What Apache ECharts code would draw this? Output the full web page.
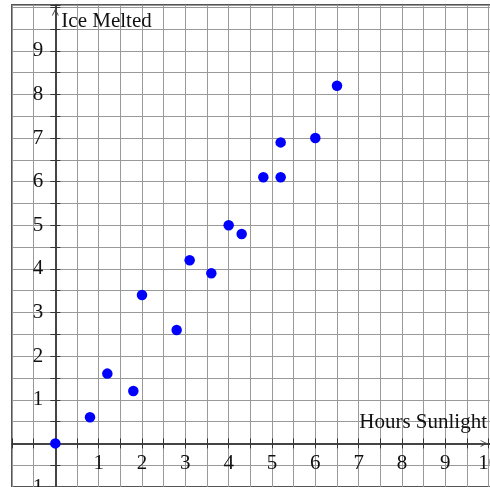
<!DOCTYPE html>
<html>
<head>
<meta charset="utf-8">
<script src="https://cdn.jsdelivr.net/npm/echarts@6/dist/echarts.min.js"></script>
<style>html,body{margin:0;padding:0;background:#fff}#chart{width:490px;height:487px}</style>
</head>
<body>
<div id="chart"></div>
<script>
// Data
const hoursSunlight = [0, 0.8, 1.2, 1.8, 2, 2.8, 3.1, 3.6, 4, 4.3, 4.8, 5.2, 5.2, 6, 6.5];
const iceMelted     = [0, 0.6, 1.6, 1.2, 3.4, 2.6, 4.2, 3.9, 5, 4.8, 6.1, 6.1, 6.9, 7, 8.2];
const xTickLabels = [1, 2, 3, 4, 5, 6, 7, 8, 9, 10];
const yTickLabels = [-1, 1, 2, 3, 4, 5, 6, 7, 8, 9];
const xName = 'Hours Sunlight';
const yName = 'Ice Melted';

const points = hoursSunlight.map((x, i) => [x, iceMelted[i]]);
const FONT = 'Liberation Serif';
const FS = 21;
const chevron = 'path://M0,10 L5,0 L10,10 L8.6,10 L5,2.8 L1.4,10 Z';

const W = 490, H = 487;
const G = { left: 12, top: 5, right: -3, bottom: 0 };
const xRange = { min: -1, max: 10.1, interval: 0.5 };
const yRange = { min: -1, max: 10.05, interval: 0.5 };

function mainAxis(range, labels, isX) {
  return Object.assign({
    type: 'value',
    gridIndex: 0,
    position: isX ? 'bottom' : 'left',
    offset: 0,
    name: isX ? xName : yName,
    nameLocation: 'end',
    nameGap: isX ? -6 : -27,
    nameTextStyle: isX
      ? { fontFamily: FONT, fontSize: FS, color: '#111', align: 'right', verticalAlign: 'bottom', padding: [0, 0, 10, 0] }
      : { fontFamily: FONT, fontSize: FS, color: '#111', align: 'left', verticalAlign: 'bottom', padding: [0, 0, 0, 6] },
    axisLine: {
      show: true, onZero: false,
      lineStyle: { color: '#444', width: 2 },
      symbol: ['none', chevron],
      symbolSize: [7, 7],
      symbolOffset: [0, isX ? -9 : -7]
    },
    axisTick: { show: true, inside: false, length: 5, lineStyle: { color: '#333', width: 1 } },
    axisLabel: {
      show: true, showMinLabel: true, showMaxLabel: true,
      margin: isX ? 10 : 12,
      fontFamily: FONT, fontSize: FS, color: '#111',
      formatter: v => labels.includes(v) ? String(v) : ''
    },
    splitLine: { show: true, lineStyle: { color: '#999', width: 1 } }
  }, range);
}
function tickAxis(range, isX) {
  return Object.assign({
    type: 'value',
    gridIndex: 0,
    position: isX ? 'top' : 'right',
    offset: 0,
    axisLine: { show: false, onZero: false },
    axisTick: { show: true, inside: false, length: 5, lineStyle: { color: '#333', width: 1 } },
    axisLabel: { show: false },
    splitLine: { show: false }
  }, range);
}

const chart = echarts.init(document.getElementById('chart'), null, { renderer: 'canvas' });
const xAxes = [mainAxis(xRange, xTickLabels, true), tickAxis(xRange, true)];
const yAxes = [mainAxis(yRange, yTickLabels, false), tickAxis(yRange, false)];
const option = {
  animation: false,
  backgroundColor: '#fff',
  grid: Object.assign({
    containLabel: false,
    outerBoundsMode: 'none',
    show: true, borderColor: '#555', borderWidth: 2, backgroundColor: 'transparent'
  }, G),
  xAxis: xAxes,
  yAxis: yAxes,
  series: [{
    type: 'scatter',
    xAxisIndex: 0, yAxisIndex: 0,
    data: points,
    symbol: 'circle',
    symbolSize: 10.5,
    itemStyle: { color: '#0000ff', opacity: 1 },
    z: 10
  }]
};
chart.setOption(option);

// Move the axes onto the zero lines using the library's own scales
const zeroX = chart.convertToPixel({ xAxisIndex: 0 }, 0);
const zeroY = chart.convertToPixel({ yAxisIndex: 0 }, 0);
const gridBottom = H - G.bottom, gridTop = G.top, gridLeft = G.left, gridRight = W - G.right;
xAxes[0].offset = -(gridBottom - zeroY);
xAxes[1].offset = -(zeroY - gridTop);
yAxes[0].offset = -(zeroX - gridLeft);
yAxes[1].offset = -(gridRight - zeroX);
chart.setOption({ xAxis: xAxes, yAxis: yAxes });
</script>
</body>
</html>
